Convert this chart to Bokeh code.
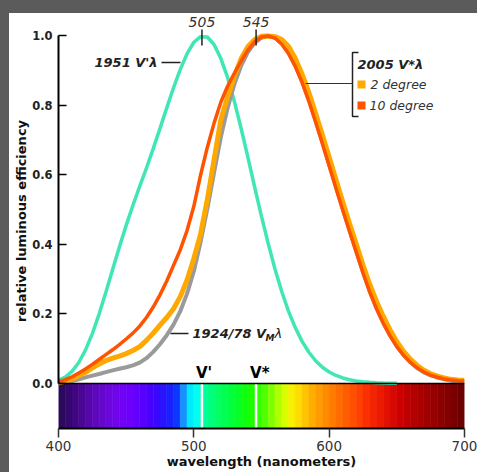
import numpy as np
from bokeh.plotting import figure
from bokeh.models import Range1d, FixedTicker, NumeralTickFormatter, Label, GlobalInlineStyleSheet
from bokeh.embed import file_html
from bokeh.resources import INLINE

# ---------------- data ----------------
wavelengths = list(range(400, 705, 5))
scotopic_wl = list(range(400, 655, 5))

# 1951 V'(lambda) scotopic
scotopic_1951 = [0.0093, 0.0185, 0.0348, 0.0604, 0.0966, 0.1436, 0.1998, 0.2625, 0.3281, 0.3931,
                 0.455, 0.513, 0.567, 0.620, 0.676, 0.734, 0.793, 0.851, 0.904, 0.949,
                 0.982, 0.998, 0.997, 0.975, 0.935, 0.880, 0.811, 0.733, 0.650, 0.564,
                 0.481, 0.402, 0.3288, 0.2639, 0.2076, 0.1602, 0.1212, 0.0899, 0.0655, 0.0469,
                 0.0332, 0.0231, 0.0159, 0.0109, 0.0074, 0.0050, 0.0033, 0.0022, 0.0015, 0.0010,
                 0.0007]

# 1924/78 VM(lambda)
vm_1924_78 = [0.0028, 0.0047, 0.0074, 0.0118, 0.0175, 0.0227, 0.0273, 0.0326, 0.0379, 0.0424,
              0.0468, 0.0521, 0.0600, 0.0729, 0.0910, 0.1130, 0.1390, 0.1693, 0.2080, 0.2586,
              0.3230, 0.4073, 0.5030, 0.6082, 0.7100, 0.7932, 0.8620, 0.9149, 0.9540, 0.9803,
              0.9950, 1.0000, 0.9950, 0.9786, 0.9520, 0.9154, 0.8700, 0.8163, 0.7570, 0.6949,
              0.6310, 0.5668, 0.5030, 0.4412, 0.3810, 0.3210, 0.2650, 0.2170, 0.1750, 0.1382,
              0.1070, 0.0816, 0.0610, 0.0446, 0.0320, 0.0232, 0.0170, 0.0119, 0.0082, 0.0057,
              0.0041]

# 2005 V*(lambda) 2 degree
v2005_2deg = [0.002, 0.006, 0.012, 0.022, 0.032, 0.045, 0.056, 0.066, 0.073, 0.079,
              0.086, 0.095, 0.106, 0.124, 0.145, 0.168, 0.190, 0.215, 0.250, 0.298,
              0.360, 0.430, 0.530, 0.645, 0.760, 0.825, 0.885, 0.935, 0.970, 0.990,
              0.999, 1.000, 0.998, 0.990, 0.970, 0.935, 0.890, 0.837, 0.777, 0.715,
              0.651, 0.587, 0.523, 0.461, 0.401, 0.341, 0.285, 0.236, 0.193, 0.154,
              0.120, 0.092, 0.070, 0.052, 0.038, 0.028, 0.021, 0.016, 0.012, 0.010,
              0.009]

# 2005 V*(lambda) 10 degree
v2005_10deg = [0.005, 0.011, 0.019, 0.030, 0.042, 0.055, 0.069, 0.083, 0.097, 0.112,
               0.128, 0.145, 0.165, 0.190, 0.220, 0.255, 0.295, 0.340, 0.385, 0.440,
               0.510, 0.600, 0.680, 0.750, 0.810, 0.856, 0.893, 0.928, 0.960, 0.984,
               0.997, 1.000, 0.994, 0.976, 0.949, 0.912, 0.866, 0.812, 0.752, 0.690,
               0.626, 0.562, 0.499, 0.438, 0.378, 0.318, 0.263, 0.215, 0.173, 0.137,
               0.106, 0.081, 0.061, 0.045, 0.033, 0.024, 0.018, 0.013, 0.010, 0.008,
               0.007]

x_ticks = [400, 500, 600, 700]
y_ticks = [0.0, 0.2, 0.4, 0.6, 0.8, 1.0]

peak_positions = [506, 546]
peak_labels = ["505", "545"]
marker_labels = ["V'", "V*"]

band_starts = list(range(400, 700, 5))
spectrum_colors = [
    "#2b0a5c", "#34086e", "#3f0680", "#4a0694", "#5507a8", "#5e08bb", "#6608cc", "#6c07dc",
    "#7005ea", "#7002f5", "#6c00fc", "#6400ff", "#5800ff", "#4a00ff", "#3a08ff", "#2a14ff",
    "#1a20ff", "#0a38ff", "#1890ff", "#00eaff", "#00ffee", "#00ff9a", "#00ff80", "#00ff68",
    "#00ff50", "#00ff40", "#05ff28", "#10ff10", "#18ff00", "#30ff00", "#50ff00", "#80ff00",
    "#b0ff00", "#d8ff00", "#f8f000", "#ffdc00", "#ffc400", "#ffae00", "#ff9c00", "#ff8c00",
    "#ff7c00", "#ff6c00", "#ff5e00", "#ff5000", "#ff4000", "#fa3000", "#f42400", "#ec1a00",
    "#e21000", "#d80800", "#cc0000", "#c00000", "#b40000", "#aa0000", "#a00000", "#960000",
    "#8c0000", "#820000", "#780000", "#6c0000"]

TEAL = "#40e6b4"
GRAY = "#9a9a9a"
ORANGE = "#ffa800"
RED = "#ff5300"
FONT = "DejaVu Sans"

# ---------------- figure ----------------
Y0, Y1 = -0.1295, 1.0647
css = ("html { margin: 0; padding: 0; overflow: hidden; scrollbar-width: none; "
       "background: linear-gradient(#5b5b5b, #5b5b5b) 0 0 / 100% 13px no-repeat, "
       "linear-gradient(#5b5b5b, #5b5b5b) 0 0 / 9px 100% no-repeat, #ffffff; } "
       "body { margin: 0 !important; padding: 13px 0 0 9px !important; overflow: hidden; "
       "scrollbar-width: none; background: transparent; } "
       "::-webkit-scrollbar { display: none; width: 0; height: 0; }")

p = figure(width=468, height=459, x_range=Range1d(400, 700), y_range=Range1d(Y0, Y1),
           output_backend="svg", toolbar_location=None,
           min_border_left=49, min_border_right=13, min_border_top=0, min_border_bottom=44,
           background_fill_color="white", border_fill_color="white",
           stylesheets=[GlobalInlineStyleSheet(css=css)])
p.outline_line_color = None
p.grid.visible = False

# page-pixel -> data helpers for annotation placement (figure at page 9,13)
FL, FR, FT, FB = 58.0, 464.0, 13.0, 428.0
def dx(px):
    return 400 + (px - FL) * 300.0 / (FR - FL)
def dy(py):
    return Y1 - (py - FT) * (Y1 - Y0) / (FB - FT)

# axes
xa = p.xaxis[0]
xa.ticker = FixedTicker(ticks=x_ticks)
xa.bounds = (400, 700)
xa.axis_line_color = "black"
xa.axis_line_width = 2
xa.major_tick_out = 9
xa.major_tick_in = 0
xa.major_tick_line_color = "#333333"
xa.major_tick_line_width = 1.5
xa.minor_tick_line_color = None
xa.major_label_standoff = 3
xa.major_label_text_font = FONT
xa.major_label_text_font_size = "13.5px"
xa.major_label_text_color = "#333333"
xa.axis_label = "wavelength (nanometers)"
xa.axis_label_standoff = 0
xa.axis_label_text_font = FONT
xa.axis_label_text_font_size = "13px"
xa.axis_label_text_font_style = "bold"
xa.axis_label_text_color = "#111111"

ya = p.yaxis[0]
ya.ticker = FixedTicker(ticks=y_ticks)
ya.formatter = NumeralTickFormatter(format="0.0")
ya.bounds = (0, 1)
ya.axis_line_color = "black"
ya.axis_line_width = 2
ya.major_tick_in = 8
ya.major_tick_out = 0
ya.major_tick_line_color = "black"
ya.major_tick_line_width = 1.5
ya.minor_tick_line_color = None
ya.major_label_standoff = 6
ya.major_label_text_font = FONT
ya.major_label_text_font_size = "11.5px"
ya.major_label_text_font_style = "bold"
ya.major_label_text_color = "#222222"
ya.axis_label = "relative luminous efficiency"
ya.axis_label_standoff = 0
ya.axis_label_text_font = FONT
ya.axis_label_text_font_size = "13px"
ya.axis_label_text_font_style = "bold"
ya.axis_label_text_color = "#111111"

# spectrum bar
band_ends = [b + 5 for b in band_starts]
p.quad(left=band_starts, right=band_ends, bottom=Y0, top=0, fill_color=spectrum_colors,
       line_color=spectrum_colors, line_width=0.6)
p.segment(x0=peak_positions, x1=peak_positions, y0=Y0, y1=0, line_color="white", line_width=2.5)

# curves
p.line(scotopic_wl, scotopic_1951, line_color=TEAL, line_width=3.5)
p.line(wavelengths, vm_1924_78, line_color=GRAY, line_width=4)
p.line(wavelengths, v2005_2deg, line_color=ORANGE, line_width=5)
p.line(wavelengths, v2005_10deg, line_color=RED, line_width=3.5)

# top border of the bar
p.segment(x0=[400], x1=[700], y0=[0], y1=[0], line_color="black", line_width=1.5)

# peak marks
p.segment(x0=peak_positions, x1=peak_positions, y0=dy(45), y1=dy(29), line_color="#222222", line_width=1.5)
for xpk, lbl in zip(peak_positions, peak_labels):
    p.add_layout(Label(x=xpk, y=dy(21), text=lbl, text_font=FONT, text_font_size="14px",
                       text_font_style="italic", text_color="#333333",
                       text_align="center", text_baseline="middle"))

# V' / V* labels above the bar
for xpk, lbl in zip(peak_positions, marker_labels):
    p.add_layout(Label(x=xpk, y=dy(372), x_offset=-6, text=lbl, text_font=FONT, text_font_size="15px",
                       text_font_style="bold", text_color="black",
                       text_align="left", text_baseline="middle"))

def lab(text, px, py, size="13px", style="bold italic", color="#222222", align="left", angle=0.0):
    p.add_layout(Label(x=dx(px), y=dy(py), text=text, text_font=FONT, text_font_size=size,
                       text_font_style=style, text_color=color, text_align=align,
                       text_baseline="middle", angle=angle))

# 1951 label
lab("1951 V'\u03bb", 157, 62, align="right")
p.segment(x0=[dx(161)], x1=[dx(180)], y0=[dy(62)], y1=[dy(62)], line_color="#222222", line_width=1.5)

# 1924/78 label
p.segment(x0=[dx(170)], x1=[dx(188)], y0=[dy(333)], y1=[dy(333)], line_color="#222222", line_width=1.5)
lab("1924/78 V", 192, 333)
lab("M", 265, 337.5, size="9px")
lab("\u03bb", 274, 333, style="italic")

# 2005 legend bracket
p.line([dx(358), dx(352), dx(352), dx(358)], [dy(52), dy(52), dy(116), dy(116)],
       line_color="#222222", line_width=1.5)
p.segment(x0=[dx(305)], x1=[dx(352)], y0=[dy(83)], y1=[dy(83)], line_color="#333333", line_width=1.2)
lab("2005 V*\u03bb", 357, 64)
p.scatter(x=[dx(361), dx(361)], y=[dy(84), dy(105)], marker="square", size=8,
          fill_color=[ORANGE, RED], line_color=None)
lab("2 degree", 370, 84, size="12.5px", style="italic", color="#333333")
lab("10 degree", 369, 105, size="12.5px", style="italic", color="#333333")

open("out.html", "w").write(file_html(p, INLINE))
